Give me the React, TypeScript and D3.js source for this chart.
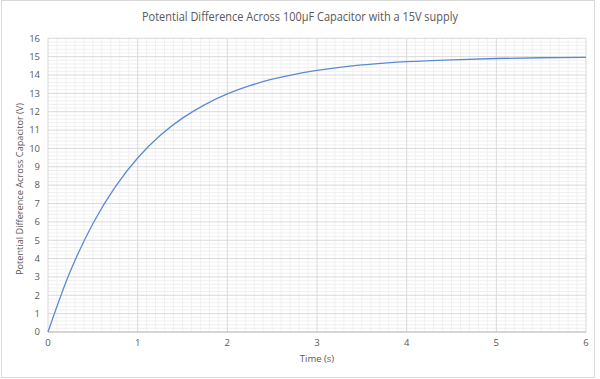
import React from "react";
import * as d3 from "d3";

const times = [0, 0.25, 0.5, 0.75, 1, 1.25, 1.5, 1.75, 2, 2.25, 2.5, 2.75, 3, 3.25, 3.5, 3.75, 4, 4.5, 5, 5.5, 6];
const volts = [0, 3.32, 5.9, 7.91, 9.48, 10.7, 11.65, 12.39, 12.97, 13.42, 13.77, 14.04, 14.25, 14.42, 14.55, 14.65, 14.73, 14.83, 14.9, 14.94, 14.96];
const xTicks = [0, 1, 2, 3, 4, 5, 6];
const yTicks = [0, 1, 2, 3, 4, 5, 6, 7, 8, 9, 10, 11, 12, 13, 14, 15, 16];
const title = "Potential Difference Across 100µF Capacitor with a 15V supply";
const xTitle = "Time (s)";
const yTitle = "Potential Difference Across Capacitor (V)";

export default function App() {
  const W = 600, H = 379;
  const x = d3.scaleLinear().domain([0, 6]).range([48, 586]);
  const y = d3.scaleLinear().domain([0, 16]).range([332, 38.3]);
  const xMinor = d3.range(0, 60).map((i) => i / 10).filter((v, i) => i % 10 !== 0);
  const yMinor = d3.range(0, 80).map((i) => i / 5).filter((v, i) => i % 5 !== 0);
  const pts = times.map((t, i) => [t, volts[i]] as [number, number]);
  const line = d3.line<[number, number]>().x((d) => x(d[0])).y((d) => y(d[1])).curve(d3.curveCatmullRom);
  const font = "'Open Sans', 'Noto Sans', sans-serif";
  return (
    <svg width={W} height={H} style={{ position: "absolute", left: 0, top: 0, background: "#fff" }} fontFamily={font}>
      <rect x={1.5} y={0.5} width={593} height={377} fill="#fff" stroke="#d9d9d9" />
      <g>
        {xMinor.map((v) => (
          <line key={"xm" + v} x1={x(v)} x2={x(v)} y1={y(16)} y2={y(0)} stroke="#f0f0f0" strokeWidth={1} />
        ))}
        {yMinor.map((v) => (
          <line key={"ym" + v} x1={x(0)} x2={x(6)} y1={y(v)} y2={y(v)} stroke="#f0f0f0" strokeWidth={1} />
        ))}
        {xTicks.map((v) => (
          <line key={"xM" + v} x1={x(v)} x2={x(v)} y1={y(16)} y2={y(0)} stroke="#d9d9d9" strokeWidth={1} />
        ))}
        {yTicks.map((v) => (
          <line key={"yM" + v} x1={x(0)} x2={x(6)} y1={y(v)} y2={y(v)} stroke="#d9d9d9" strokeWidth={1} />
        ))}
        <line x1={x(0)} x2={x(6)} y1={y(0)} y2={y(0)} stroke="#bfbfbf" strokeWidth={1} />
      </g>
      <path d={line(pts) || ""} fill="none" stroke="#5b8ad2" strokeWidth={1.3} />
      {yTicks.map((v) => (
        <text key={"yl" + v} x={40} y={y(v)} dy="0.35em" textAnchor="end" fontSize={9.5} fill="#595959">
          {v}
        </text>
      ))}
      {xTicks.map((v) => (
        <text key={"xl" + v} x={x(v)} y={346} textAnchor="middle" fontSize={9.5} fill="#595959">
          {v}
        </text>
      ))}
      <text x={317} y={362} textAnchor="middle" fontSize={9.5} fill="#595959">
        {xTitle}
      </text>
      <text transform={`translate(23,189) rotate(-90)`} textAnchor="middle" fontSize={8.8} fill="#595959" textLength={172} lengthAdjust="spacingAndGlyphs">
        {yTitle}
      </text>
      <text x={300} y={21} textAnchor="middle" fontSize={13.5} fill="#595959" textLength={316} lengthAdjust="spacingAndGlyphs">
        {title}
      </text>
    </svg>
  );
}
